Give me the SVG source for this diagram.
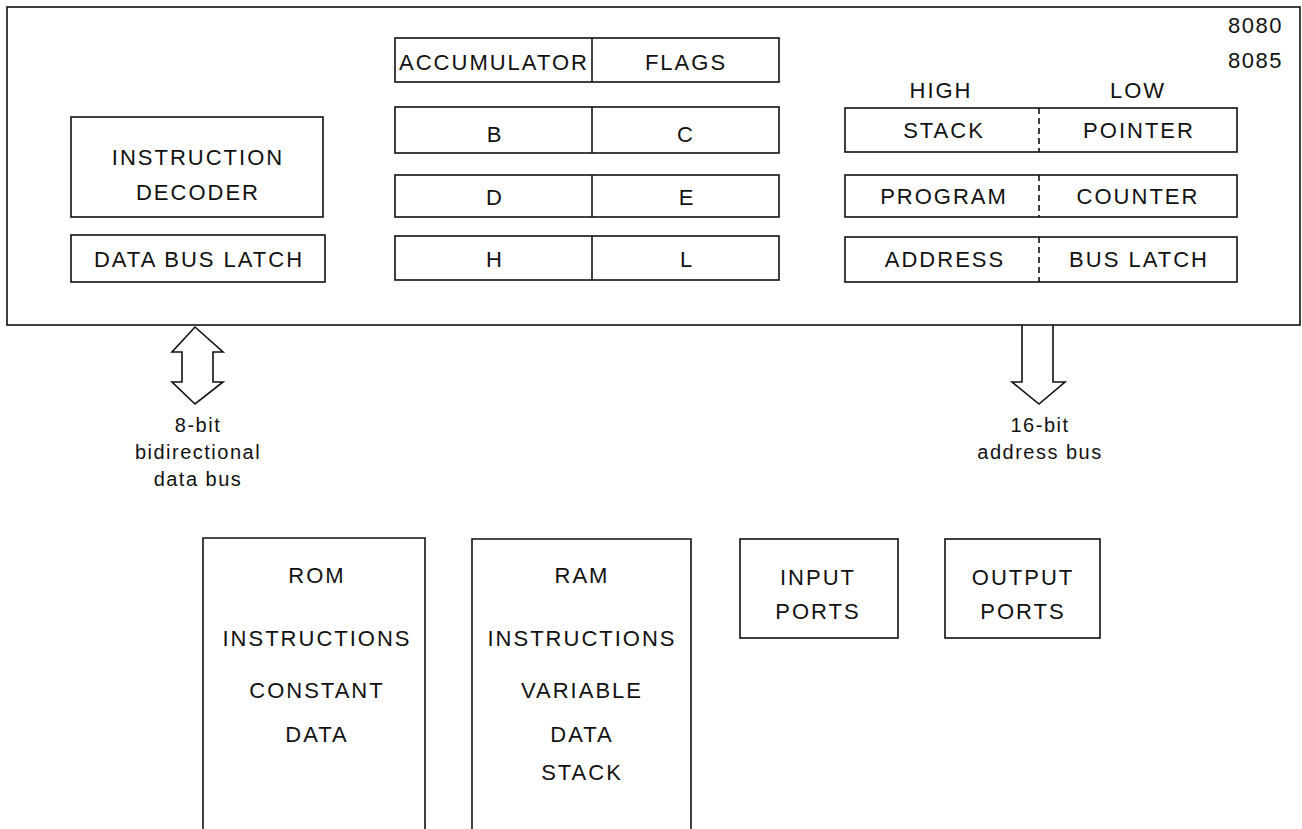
<svg xmlns="http://www.w3.org/2000/svg" width="1302" height="829" viewBox="0 0 1302 829">
<style>
rect, path, line, polygon { fill: none; stroke: #111; stroke-width: 1.6; }
.bg { fill: #fff; stroke: none; }
.div { stroke-dasharray: 6 4; }
text { font-family: "Liberation Sans", Arial, sans-serif; font-size: 22px; letter-spacing: 2px; fill: #111; text-anchor: middle; }
.lbl { font-size: 20px; letter-spacing: 1.5px; }
.num { font-size: 22px; letter-spacing: 1.5px; text-anchor: start; }
</style>
<rect class="bg" x="0" y="0" width="1302" height="829"/>
<g id="cpu">
  <rect x="7" y="7" width="1293" height="318"/>
  <text class="num" x="1228" y="33">8080</text>
  <text class="num" x="1228" y="68">8085</text>
</g>
<g id="instruction-decoder">
  <rect x="71" y="117" width="252" height="100"/>
  <text x="198" y="165">INSTRUCTION</text>
  <text x="198" y="200">DECODER</text>
</g>
<g id="data-bus-latch">
  <rect x="71" y="235" width="254" height="47"/>
  <text x="199" y="267">DATA BUS LATCH</text>
</g>
<g id="reg-accumulator">
  <rect x="395" y="38" width="384" height="44"/>
  <line x1="592" y1="38" x2="592" y2="82"/>
  <text x="494" y="70">ACCUMULATOR</text>
  <text x="686" y="70">FLAGS</text>
</g>
<g id="reg-bc">
  <rect x="395" y="107" width="384" height="46"/>
  <line x1="592" y1="107" x2="592" y2="153"/>
  <text x="495" y="142">B</text>
  <text x="686" y="142">C</text>
</g>
<g id="reg-de">
  <rect x="395" y="175" width="384" height="42"/>
  <line x1="592" y1="175" x2="592" y2="217"/>
  <text x="495" y="205">D</text>
  <text x="687" y="205">E</text>
</g>
<g id="reg-hl">
  <rect x="395" y="236" width="384" height="44"/>
  <line x1="592" y1="236" x2="592" y2="280"/>
  <text x="495" y="267">H</text>
  <text x="687" y="267">L</text>
</g>
<g id="high-low">
  <text x="941" y="98">HIGH</text>
  <text x="1138" y="98">LOW</text>
</g>
<g id="stack-pointer">
  <rect x="845" y="108" width="392" height="44"/>
  <line class="div" x1="1039" y1="108" x2="1039" y2="152"/>
  <text x="944" y="138">STACK</text>
  <text x="1139" y="138">POINTER</text>
</g>
<g id="program-counter">
  <rect x="845" y="175" width="392" height="42"/>
  <line class="div" x1="1039" y1="175" x2="1039" y2="217"/>
  <text x="944" y="204">PROGRAM</text>
  <text x="1138" y="204">COUNTER</text>
</g>
<g id="address-bus-latch">
  <rect x="845" y="237" width="392" height="45"/>
  <line class="div" x1="1039" y1="237" x2="1039" y2="282"/>
  <text x="945" y="267">ADDRESS</text>
  <text x="1139" y="267">BUS LATCH</text>
</g>
<g id="connectors">
  <polygon points="195,327 223,352 213,352 213,382 223,382 195,404 172,382 182,382 182,352 172,352"/>
  <path d="M1022,325 V382 H1012 L1039,404 L1065,382 H1053 V325"/>
</g>
<g id="data-bus-label">
  <text class="lbl" x="198" y="432">8-bit</text>
  <text class="lbl" x="198" y="459">bidirectional</text>
  <text class="lbl" x="198" y="486">data bus</text>
</g>
<g id="address-bus-label">
  <text class="lbl" x="1040" y="432">16-bit</text>
  <text class="lbl" x="1040" y="459">address bus</text>
</g>
<g id="rom">
  <path d="M203,829 V538 H425 V829"/>
  <text x="317" y="583">ROM</text>
  <text x="317" y="646">INSTRUCTIONS</text>
  <text x="317" y="698">CONSTANT</text>
  <text x="317" y="742">DATA</text>
</g>
<g id="ram">
  <path d="M472,829 V539 H691 V829"/>
  <text x="582" y="583">RAM</text>
  <text x="582" y="646">INSTRUCTIONS</text>
  <text x="582" y="698">VARIABLE</text>
  <text x="582" y="742">DATA</text>
  <text x="582" y="780">STACK</text>
</g>
<g id="input-ports">
  <rect x="740" y="539" width="158" height="99"/>
  <text x="818" y="585">INPUT</text>
  <text x="818" y="619">PORTS</text>
</g>
<g id="output-ports">
  <rect x="945" y="539" width="155" height="99"/>
  <text x="1023" y="585">OUTPUT</text>
  <text x="1023" y="619">PORTS</text>
</g>
</svg>
